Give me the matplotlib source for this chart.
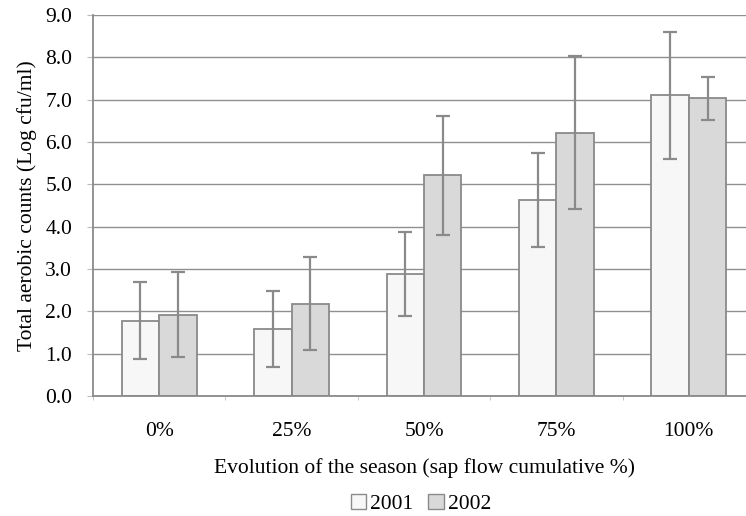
import numpy as np
import matplotlib
matplotlib.use("Agg")
import matplotlib.pyplot as plt
from matplotlib.patches import Patch

plt.rcParams['font.family'] = ['Liberation Serif', 'DejaVu Serif']

categories = ["0%", "25%", "50%", "75%", "100%"]
mean_2001 = [1.78, 1.58, 2.88, 4.63, 7.10]
err_2001 = [0.91, 0.90, 1.00, 1.10, 1.51]
mean_2002 = [1.92, 2.18, 5.21, 6.22, 7.03]
err_2002 = [1.00, 1.10, 1.40, 1.80, 0.50]
yticks = [0.0, 1.0, 2.0, 3.0, 4.0, 5.0, 6.0, 7.0, 8.0, 9.0]

fs = 15.5
fig = plt.figure(figsize=(7.46, 5.16), dpi=100)
ax = fig.add_axes([93/746, 120/516, 662/746, 381/516])

x = np.arange(len(categories))
w = 0.283
edge = "#8a8a8a"
ekw = dict(ecolor=edge, elinewidth=1.6, capsize=5, capthick=1.6)

ax.bar(x - w/2, mean_2001, w, color="#f7f7f7", edgecolor=edge, linewidth=1.3,
       yerr=err_2001, error_kw=ekw, zorder=2, label="2001")
ax.bar(x + w/2, mean_2002, w, color="#d9d9d9", edgecolor=edge, linewidth=1.3,
       yerr=err_2002, error_kw=ekw, zorder=2, label="2002")

ax.set_xlim(-0.5, len(categories) - 0.5)
ax.set_ylim(0, 9)
ax.set_yticks(yticks)
ax.set_yticklabels([f"{v:.1f}" for v in yticks], fontsize=fs)
ax.set_xticks(x)
ax.set_xticklabels(categories, fontsize=fs)
ax.set_xticks(np.arange(len(categories) + 1) - 0.5, minor=True)
ax.tick_params(axis='x', which='major', length=0, pad=19)
ax.tick_params(axis='x', which='minor', length=3, color="#bbbbbb")
ax.tick_params(axis='y', length=4, color="#bbbbbb", pad=11)

ax.yaxis.grid(True, color="#8f8f8f", linewidth=1.0, zorder=0)
ax.set_axisbelow(True)
for s in ["top", "right"]:
    ax.spines[s].set_visible(False)
ax.spines["left"].set_color("#8a8a8a")
ax.spines["left"].set_linewidth(1.3)
ax.spines["bottom"].set_color("#8a8a8a")
ax.spines["bottom"].set_linewidth(1.3)

ax.set_ylabel("Total aerobic counts (Log cfu/ml)", fontsize=fs, labelpad=6)
ax.set_xlabel("Evolution of the season (sap flow cumulative %)", fontsize=fs, labelpad=12)

handles = [Patch(facecolor="#f7f7f7", edgecolor=edge, label="2001"),
           Patch(facecolor="#d9d9d9", edgecolor=edge, label="2002")]
fig.legend(handles=handles, loc="center", bbox_to_anchor=(421/746, 1 - 504/516),
           ncol=2, frameon=False, fontsize=fs, handlelength=0.7, handleheight=0.7,
           handletextpad=0.2, columnspacing=0.7, borderpad=0)

fig.savefig("out.png", dpi=100)
